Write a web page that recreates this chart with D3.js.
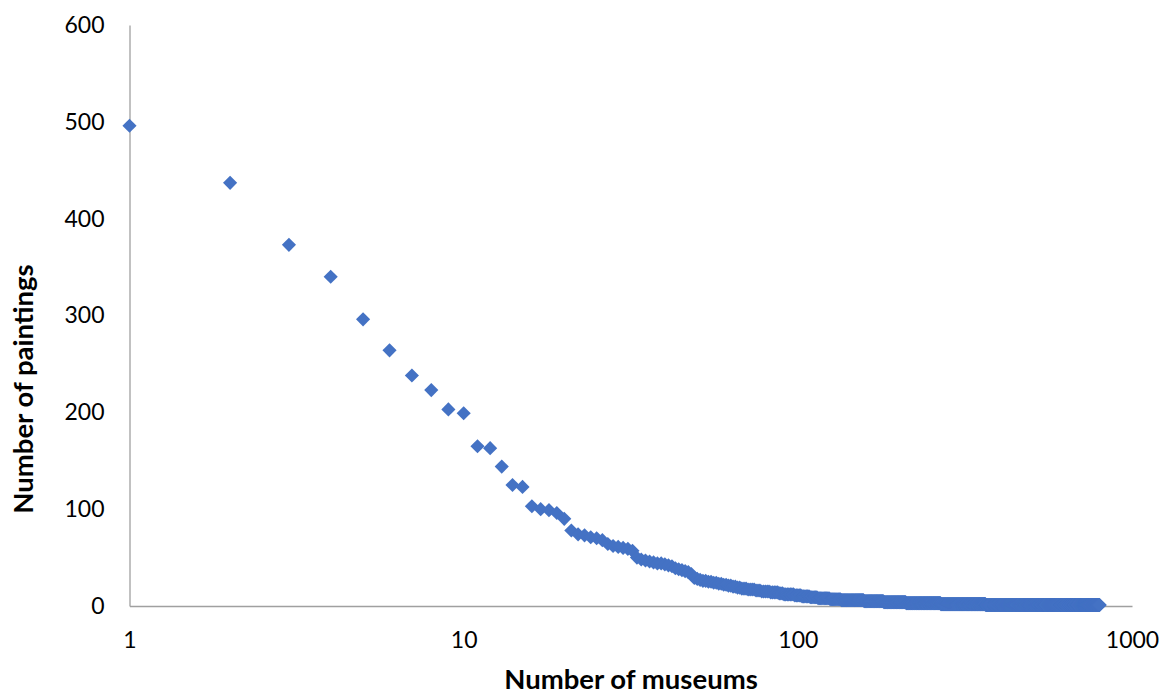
<!DOCTYPE html>
<html>
<head>
<meta charset="utf-8">
<script src="https://cdn.jsdelivr.net/npm/d3@7/dist/d3.min.js"></script>
<style>
  html, body { margin: 0; padding: 0; background: #fff; }
  svg { display: block; }
  text { font-family: Lato, "Open Sans", sans-serif; fill: #000; }
</style>
</head>
<body>
<svg id="chart" width="1165" height="695"></svg>
<script>
// Paintings held by each museum, ranked (museum rank 1..20 read individually)
const headValues = [496, 437, 373, 340, 296, 264, 238, 223, 203, 199,
                    165, 163, 144, 125, 123, 103, 100, 99, 96, 90];
// ranks 21..67
const midValues = [78, 74, 73, 71, 70, 68, 64, 62, 61, 60,
                   59, 57, 50, 48, 47, 46, 45, 44, 44, 43,
                   42, 41, 39, 38, 37, 36, 35, 33, 29, 28,
                   27, 26, 26, 25, 25, 24, 24, 23, 23, 22,
                   22, 21, 21, 20, 20, 19, 19];
// ranks 68..800, as runs of equal values (value, number of museums)
const tailValues = [18, 17, 16, 15, 14, 13, 12, 11, 10, 9, 8, 7, 6, 5, 4, 3, 2, 1];
const tailCounts = [3, 4, 3, 5, 5, 3, 7, 5, 6, 6, 10, 10, 23, 23, 30, 57, 97, 436];

const xTicks = [1, 10, 100, 1000];
const yTicks = [0, 100, 200, 300, 400, 500, 600];

const values = headValues.concat(midValues);
tailValues.forEach((v, i) => { for (let k = 0; k < tailCounts[i]; k++) values.push(v); });
const data = values.map((v, i) => ({ rank: i + 1, paintings: v }));

const svg = d3.select("#chart");
const x = d3.scaleLog().domain([1, 1000]).range([129.5, 1132]);
const y = d3.scaleLinear().domain([0, 600]).range([606, 25]);

const axisColor = "#a0a0a0";

// Y axis
const yAxis = svg.append("g").attr("transform", "translate(129.5,0)")
  .call(d3.axisLeft(y).tickValues(yTicks).tickSize(0).tickPadding(25).tickFormat(d3.format("d")));
yAxis.select(".domain").attr("stroke", axisColor).attr("stroke-width", 1.3);
yAxis.selectAll("text").style("font-size", "23px").style("font-family", "Lato, sans-serif").attr("fill", "#000");

// X axis
const xAxis = svg.append("g").attr("transform", "translate(0,606)")
  .call(d3.axisBottom(x).tickValues(xTicks).tickSize(0).tickPadding(26).tickFormat(d3.format("d")));
xAxis.select(".domain").attr("stroke", axisColor).attr("stroke-width", 1.3);
xAxis.selectAll("text").style("font-size", "23px").style("font-family", "Lato, sans-serif").attr("fill", "#000");

// Points (diamonds)
const diamond = d3.symbol().type(d3.symbolSquare).size(100)();
svg.append("g").selectAll("path")
  .data(data)
  .join("path")
  .attr("d", diamond)
  .attr("transform", d => `translate(${x(d.rank)},${y(d.paintings)}) rotate(45)`)
  .attr("fill", "#4472C4");

// Axis titles
svg.append("text")
  .attr("x", 631).attr("y", 689)
  .attr("text-anchor", "middle")
  .style("font-size", "27.5px").style("font-weight", "bold")
  .text("Number of museums");

svg.append("text")
  .attr("transform", "translate(33,389) rotate(-90)")
  .attr("text-anchor", "middle")
  .style("font-size", "27.5px").style("font-weight", "bold")
  .text("Number of paintings");
</script>
</body>
</html>
